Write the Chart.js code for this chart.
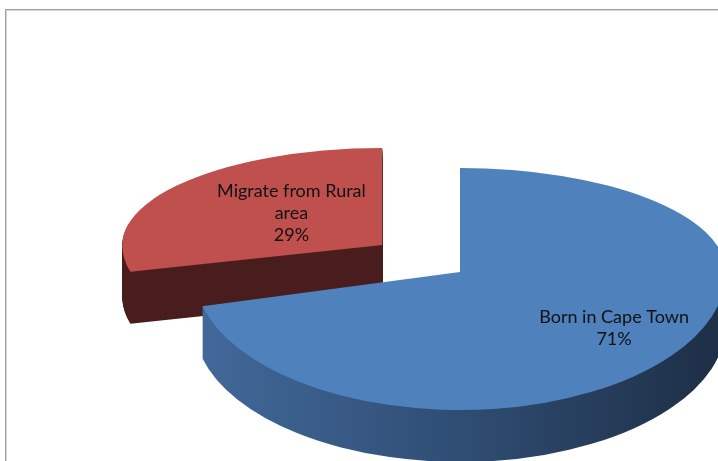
<!DOCTYPE html>
<html>
<head>
<meta charset="utf-8">
<script src="https://cdn.jsdelivr.net/npm/chart.js@4.4.1/dist/chart.umd.min.js"></script>
<style>
  html, body { margin: 0; padding: 0; background: #ffffff; overflow: hidden; }
  canvas { display: block; }
</style>
</head>
<body>
<canvas id="c" width="718" height="461"></canvas>
<script>
// ---- data ----
const categories = ["Born in Cape Town", "Migrate from Rural area"];
const shares = [71, 29];
const labelLines = [["Born in Cape Town"], ["Migrate from Rural", "area"]];
const topColors = ["#4f81bd", "#c0504d"];

// ---- 3D pie plugin ----
const pie3d = {
  id: 'pie3d',
  beforeDatasetsDraw(chart, args, g) {
    const ctx = chart.ctx;
    const W = chart.width, H = chart.height;
    const meta = chart.getDatasetMeta(0);
    g.drawOrder.forEach(i => {
      const arc = meta.data[i];
      const R = arc.outerRadius;
      const half = (arc.startAngle + arc.endAngle) / 2;
      const e = g.explode[i] * R;
      const cxs = g.cx + Math.cos(half) * e * (g.rx / R);
      const cys = Math.round(g.cy + Math.sin(half) * e * (g.ryMid / R));
      const sx = g.rxSlice[i] / R;
      const tx = cxs - arc.x * sx;
      let wall;
      const stops = g.wallStops[i];
      if (stops.length > 1) {
        wall = ctx.createLinearGradient((g.gradX0 - tx) / sx, 0, (g.gradX1 - tx) / sx, 0);
        stops.forEach((c, k) => wall.addColorStop(k / (stops.length - 1), c));
      } else {
        wall = stops[0];
      }
      const orig = arc.options;
      const drawHalf = (fill, d, top) => {
        const sy = (top ? g.ryTop[i] : g.ryBottom[i]) / R;
        ctx.save();
        ctx.setTransform(1, 0, 0, 1, 0, 0);
        ctx.beginPath();
        if (top) ctx.rect(0, 0, W, cys + d);
        else ctx.rect(0, cys + d, W, H);
        ctx.clip();
        ctx.setTransform(sx, 0, 0, sy, tx, cys + d - arc.y * sy);
        arc.options = Object.assign({}, orig, { backgroundColor: fill, borderWidth: 0, offset: 0 });
        arc.draw(ctx);
        arc.options = orig;
        ctx.restore();
      };
      for (let d = g.depth; d >= 0; d--) {
        const fill = d === 0 ? orig.backgroundColor : wall;
        drawHalf(fill, d, true);
        drawHalf(fill, d, false);
      }
      arc.$screen = { cxs, cys, half };
    });
    return false;
  },
  afterDraw(chart, args, g) {
    const ctx = chart.ctx;
    const meta = chart.getDatasetMeta(0);
    // frame
    ctx.save();
    ctx.fillStyle = '#a0a0a0';
    ctx.fillRect(5, 9, chart.width - 5, 1);
    ctx.fillRect(5, 9, 1, chart.height - 9);
    ctx.fillStyle = '#d6d6d6';
    ctx.fillRect(6, 10, chart.width - 6, 1);
    ctx.fillRect(6, 10, 1, chart.height - 10);
    ctx.restore();
    // labels
    ctx.save();
    ctx.font = g.font;
    ctx.fillStyle = '#111111';
    ctx.textAlign = 'center';
    ctx.textBaseline = 'middle';
    meta.data.forEach((arc, i) => {
      const s = arc.$screen;
      if (!s) return;
      const c = Math.cos(s.half), sn = Math.sin(s.half);
      const lx = s.cxs + c * g.labelRadius[i][0] * g.rx;
      const ly = s.cys + sn * g.labelRadius[i][1] * (sn > 0 ? g.ryBottom[i] : g.ryTop[i]);
      const lines = labelLines[i].concat([shares[i] + '%']);
      const y0 = ly - (lines.length - 1) * g.lineHeight / 2;
      lines.forEach((t, k) => ctx.fillText(t, lx, y0 + k * g.lineHeight));
    });
    ctx.restore();
  }
};

new Chart(document.getElementById('c'), {
  type: 'pie',
  data: {
    labels: categories,
    datasets: [{
      data: shares,
      backgroundColor: topColors,
      borderWidth: 0
    }]
  },
  options: {
    responsive: false,
    animation: false,
    events: [],
    layout: { padding: 20 },
    plugins: {
      legend: { display: false },
      tooltip: { enabled: false },
      pie3d: {
        cx: 460, cy: 272, rx: 266, ryMid: 120,
        rxSlice: [266, 260],
        ryTop: [104, 97], ryBottom: [138, 108],
        depth: 52,
        explode: [0, 0.37],
        drawOrder: [1, 0],
        wallStops: [["#42699a", "#2f4d73", "#1e2f46"], ["#4a1e1e"]],
        gradX0: 200, gradX1: 718,
        labelRadius: [[0.733, 0.66], [0.432, 0.54]],
        font: '18px Lato',
        lineHeight: 22
      }
    }
  },
  plugins: [pie3d]
});
</script>
</body>
</html>
